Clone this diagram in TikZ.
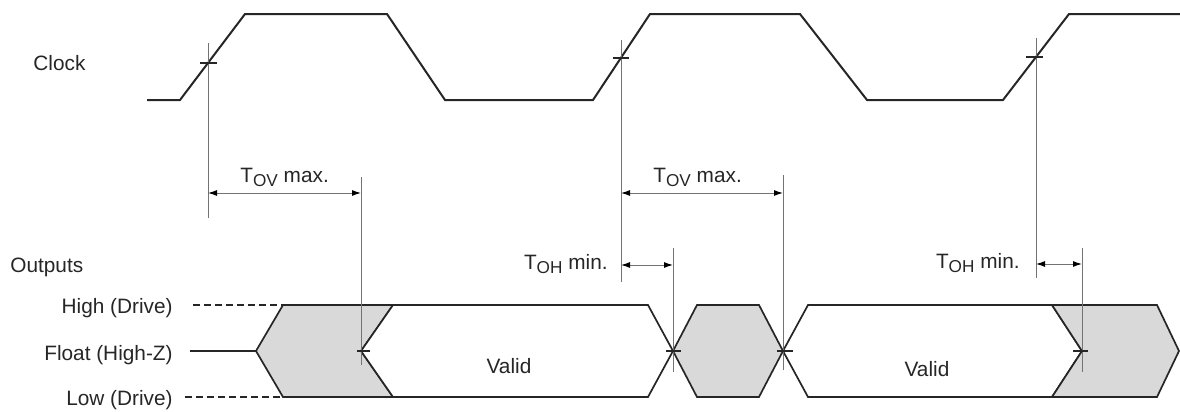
\documentclass[tikz,border=0pt]{standalone}
\usepackage{fontspec}
\setmainfont{Liberation Sans}
\usetikzlibrary{arrows.meta}
\newcommand{\tsub}[1]{\raisebox{-0.45ex}{\fontsize{8.6}{9}\selectfont #1}}
\begin{document}
\begin{tikzpicture}[x=0.5pt,y=-0.5pt,
  lbl/.style={font=\fontsize{10.4}{12}\selectfont, inner sep=0pt, text=black!85},
  wave/.style={line width=1pt, line join=miter, black!85},
  bus/.style={line width=0.85pt, black!85, line join=miter},
  guide/.style={line width=0.5pt, black!55},
  dimline/.style={line width=0.5pt, black!55, {Latex[length=4.5pt,width=3pt,black]}-{Latex[length=4.5pt,width=3pt,black]}},
  clocktick/.style={line width=1.1pt, black!85},
  bustick/.style={line width=0.6pt, black!85},
  levelline/.style={line width=0.8pt, black!85, dash pattern=on 3.5pt off 2pt},
  grayfill/.style={fill=black!15},
]
\useasboundingbox (0,0) rectangle (1180,412);

% ---------- Labels ----------
\node[lbl, anchor=base west] (clk) at (33,70) {Clock};
\node[lbl, anchor=base west] (outs) at (10,272) {Outputs};
\node[lbl, anchor=base east] (hi) at (173,313) {High (Drive)};
\node[lbl, anchor=base east] (fl) at (173,360) {Float (High-Z)};
\node[lbl, anchor=base east] (lo) at (173,405) {Low (Drive)};

% ---------- Clock waveform ----------
\coordinate (k0) at (147,100);
\coordinate (k1) at (180,100);
\coordinate (k2) at (245,14);
\coordinate (k3) at (387,14);
\coordinate (k4) at (445,100);
\coordinate (k5) at (593,100);
\coordinate (k6) at (650,14);
\coordinate (k7) at (800,14);
\coordinate (k8) at (867,100);
\coordinate (k9) at (1003,100);
\coordinate (k10) at (1069,14);
\coordinate (k11) at (1180,14);
\draw[wave] (k0) -- (k1) -- (k2) -- (k3) -- (k4) -- (k5) -- (k6) -- (k7) -- (k8) -- (k9) -- (k10) -- (k11);

% clock reference points
\coordinate (c1) at (208,63);
\coordinate (c2) at (621,58);
\coordinate (c3) at (1036,57);

% ---------- Level lines ----------
\coordinate (hiS) at (193,305);
\coordinate (flS) at (190,351);
\coordinate (loS) at (185,397);

% ---------- Bus shapes ----------
\coordinate (g1a) at (256,351);
\coordinate (g1b) at (283,305);
\coordinate (g1c) at (393,305);
\coordinate (x1) at (361,351);
\coordinate (g1e) at (393,397);
\coordinate (g1f) at (283,397);

\coordinate (v1c) at (648,305);
\coordinate (x2) at (673,351);
\coordinate (v1e) at (648,397);

\coordinate (g2b) at (697,305);
\coordinate (g2c) at (759,305);
\coordinate (x3) at (783,351);
\coordinate (g2e) at (759,397);
\coordinate (g2f) at (697,397);

\coordinate (v2b) at (808,305);
\coordinate (v2c) at (1052,305);
\coordinate (x4) at (1082,351);
\coordinate (v2e) at (1052,397);
\coordinate (v2f) at (808,397);

\coordinate (g3c) at (1157,305);
\coordinate (g3d) at (1179,351);
\coordinate (g3e) at (1157,397);

\draw[bus, grayfill] (g1a) -- (g1b) -- (g1c) -- (x1) -- (g1e) -- (g1f) -- cycle;
\draw[bus, fill=white] (x1) -- (g1c) -- (v1c) -- (x2) -- (v1e) -- (g1e) -- cycle;
\draw[bus, grayfill] (x2) -- (g2b) -- (g2c) -- (x3) -- (g2e) -- (g2f) -- cycle;
\draw[bus, fill=white] (x3) -- (v2b) -- (v2c) -- (x4) -- (v2e) -- (v2f) -- cycle;
\draw[bus, grayfill] (x4) -- (v2c) -- (g3c) -- (g3d) -- (g3e) -- (v2e) -- cycle;

\draw[levelline] (hiS) -- (g1b);
\draw[bus] (flS) -- (g1a);
\draw[levelline] (loS) -- (g1f);

\node[lbl] (val1) at (509,366) {Valid};
\node[lbl] (val2) at (927,369) {Valid};

% ---------- Guide lines ----------
\coordinate (c1t) at (208,43);  \coordinate (c1b) at (208,218);
\coordinate (c2t) at (621,40);  \coordinate (c2b) at (621,282);
\coordinate (c3t) at (1036,38); \coordinate (c3b) at (1036,278);
\coordinate (x1t) at (361,177); \coordinate (x1b) at (361,365);
\coordinate (x3t) at (783,175); \coordinate (x3b) at (783,370);
\coordinate (x2t) at (673,248); \coordinate (x2b) at (673,372);
\coordinate (x4t) at (1082,248); \coordinate (x4b) at (1082,372);
\draw[guide] (c1t) -- (c1b);
\draw[guide] (c2t) -- (c2b);
\draw[guide] (c3t) -- (c3b);
\draw[guide] (x1t) -- (x1b);
\draw[guide] (x3t) -- (x3b);
\draw[guide] (x2t) -- (x2b);
\draw[guide] (x4t) -- (x4b);

% ---------- Tick marks ----------
\draw[clocktick] ([xshift=-4pt]c1) -- ([xshift=4.5pt]c1);
\draw[clocktick] ([xshift=-4pt]c2) -- ([xshift=4pt]c2);
\draw[clocktick] ([xshift=-5pt]c3) -- ([xshift=3.5pt]c3);
\draw[bustick] ([xshift=-2pt]x1) -- ([xshift=4.5pt]x1);
\draw[bustick] ([xshift=-3.5pt]x2) -- ([xshift=4pt]x2);
\draw[bustick] ([xshift=-3pt]x3) -- ([xshift=5pt]x3);
\draw[bustick] ([xshift=-4.5pt]x4) -- ([xshift=3pt]x4);

% ---------- Dimension arrows ----------
\coordinate (d1a) at (208,193); \coordinate (d1b) at (361,193);
\coordinate (d2a) at (621,193); \coordinate (d2b) at (783,193);
\coordinate (d3a) at (621,265); \coordinate (d3b) at (673,265);
\coordinate (d4a) at (1036,264); \coordinate (d4b) at (1082,264);
\draw[dimline] (d1a) -- (d1b);
\draw[dimline] (d2a) -- (d2b);
\draw[dimline] (d3a) -- (d3b);
\draw[dimline] (d4a) -- (d4b);

\node[lbl, anchor=base west] (tov1) at (240,182) {T\tsub{OV} max.};
\node[lbl, anchor=base west] (tov2) at (653,182) {T\tsub{OV} max.};
\node[lbl, anchor=base east] (toh1) at (608,269) {T\tsub{OH} min.};
\node[lbl, anchor=base east] (toh2) at (1020,268) {T\tsub{OH} min.};
\end{tikzpicture}
\end{document}
